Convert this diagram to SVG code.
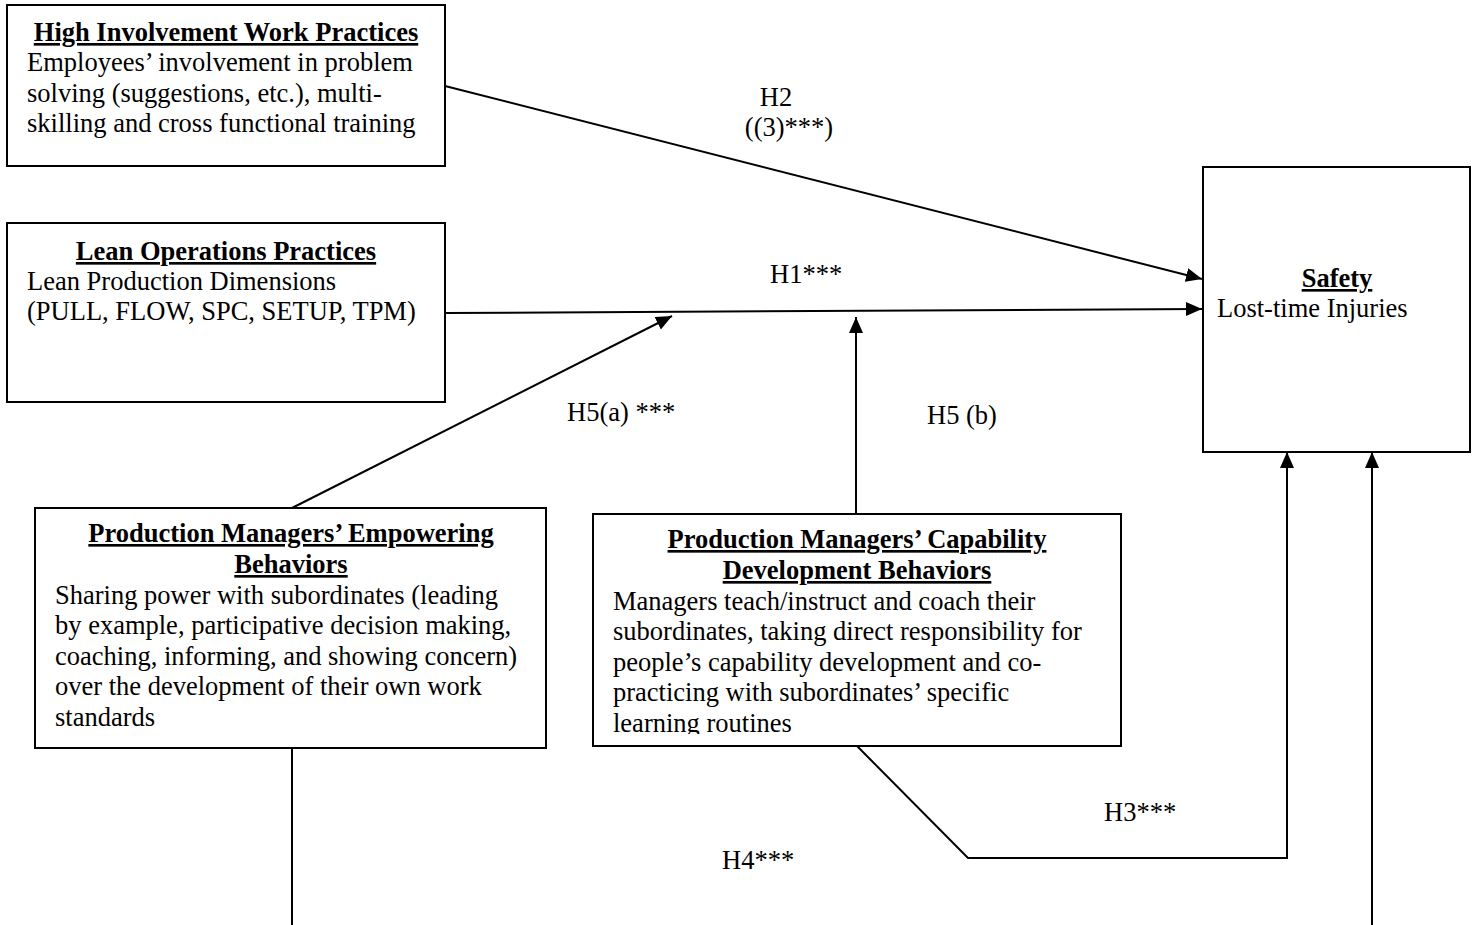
<svg xmlns="http://www.w3.org/2000/svg" width="1477" height="925" viewBox="0 0 1477 925">
<style>
text{font-family:"Liberation Serif","Times New Roman",serif;font-size:26.5px;fill:#000}
.t{font-weight:bold;text-decoration:underline;text-anchor:middle}
.box{fill:#fff;stroke:#000;stroke-width:2}
.c{fill:none;stroke:#000;stroke-width:2}
</style>
<defs>
<marker id="ah" markerUnits="userSpaceOnUse" markerWidth="17" markerHeight="15" refX="16" refY="7" orient="auto">
<path d="M0,0 L16,7 L0,14 z" fill="#000"/>
</marker>
<clipPath id="clipCap"><rect x="594" y="515" width="526" height="219"/></clipPath>
</defs>
<rect width="1477" height="925" fill="#fff"/>
<g id="connectors">
<line class="c" x1="445" y1="86" x2="1202" y2="279" marker-end="url(#ah)"/>
<line class="c" x1="445" y1="313" x2="1202" y2="309" marker-end="url(#ah)"/>
<line class="c" x1="292" y1="508" x2="672" y2="316" marker-end="url(#ah)"/>
<line class="c" x1="856" y1="514" x2="856" y2="317" marker-end="url(#ah)"/>
<polyline class="c" points="857,746 968,858 1287,858 1287,452" marker-end="url(#ah)"/>
<line class="c" x1="292" y1="748" x2="292" y2="925"/>
<line class="c" x1="1372" y1="925" x2="1372" y2="452" marker-end="url(#ah)"/>
<text x="776" y="106" text-anchor="middle">H2</text>
<text x="789" y="136" text-anchor="middle">((3)***)</text>
<text x="770" y="283">H1***</text>
<text x="567" y="421">H5(a) ***</text>
<text x="927" y="424">H5 (b)</text>
<text x="1104" y="821">H3***</text>
<text x="722" y="869">H4***</text>
</g>
<g id="high-involvement">
<rect class="box" x="7" y="5" width="438" height="161"/>
<text class="t" x="226" y="41">High Involvement Work Practices</text>
<text x="27" y="71">Employees’ involvement in problem</text>
<text x="27" y="102">solving (suggestions, etc.), multi-</text>
<text x="27" y="132">skilling and cross functional training</text>
</g>
<g id="lean">
<rect class="box" x="7" y="223" width="438" height="179"/>
<text class="t" x="226" y="260">Lean Operations Practices</text>
<text x="27" y="290">Lean Production Dimensions</text>
<text x="27" y="320">(PULL, FLOW, SPC, SETUP, TPM)</text>
</g>
<g id="safety">
<rect class="box" x="1203" y="167" width="267" height="285"/>
<text class="t" x="1337" y="287">Safety</text>
<text x="1217" y="317">Lost-time Injuries</text>
</g>
<g id="empowering">
<rect class="box" x="35" y="508" width="511" height="240"/>
<text class="t" x="291" y="542">Production Managers’ Empowering</text>
<text class="t" x="291" y="573">Behaviors</text>
<text x="55" y="604">Sharing power with subordinates (leading</text>
<text x="55" y="634">by example, participative decision making,</text>
<text x="55" y="665">coaching, informing, and showing concern)</text>
<text x="55" y="695">over the development of their own work</text>
<text x="55" y="726">standards</text>
</g>
<g id="capability">
<rect class="box" x="593" y="514" width="528" height="232"/>
<g clip-path="url(#clipCap)">
<text class="t" x="857" y="548">Production Managers’ Capability</text>
<text class="t" x="857" y="579">Development Behaviors</text>
<text x="613" y="610">Managers teach/instruct and coach their</text>
<text x="613" y="640">subordinates, taking direct responsibility for</text>
<text x="613" y="671">people’s capability development and co-</text>
<text x="613" y="701">practicing with subordinates’ specific</text>
<text x="613" y="732">learning routines</text>
</g>
</g>
</svg>
